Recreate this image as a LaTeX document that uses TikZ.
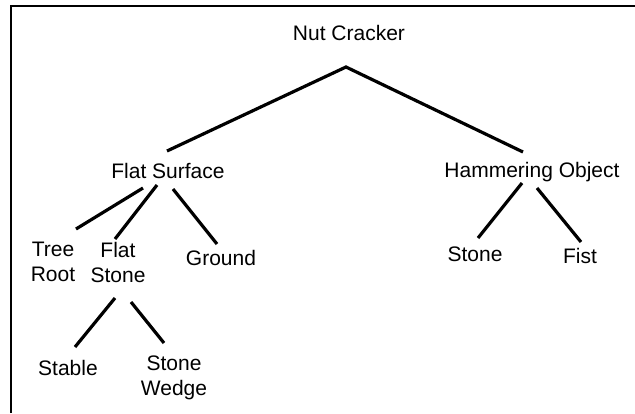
\documentclass[tikz,border=0pt]{standalone}
\usepackage{fontspec}
\setmainfont{Liberation Sans}
\usetikzlibrary{calc}
\begin{document}
\begin{tikzpicture}[x=1pt,y=-1pt,
  lbl/.style={inner sep=0pt,outer sep=0pt,anchor=north,align=center,
    font=\fontsize{21}{25}\selectfont},
  conn/.style={line width=3.2pt,line cap=butt},
  frame/.style={line width=2.2pt}]
\useasboundingbox (0,0) rectangle (635,413);
% frame (left and top only)
\draw[frame] (11,413) -- (11,6) -- (635,6);
% nodes
\node[lbl] (nc)  at (349,25)  {Nut Cracker};
\node[lbl] (fs)  at (168,163) {Flat Surface};
\node[lbl] (ho)  at (532,162) {Hammering Object};
\node[lbl] (tr)  at (53,242)  {Tree\\Root};
\node[lbl] (fst) at (118,242) {Flat\\Stone};
\node[lbl] (gr)  at (221,250) {Ground};
\node[lbl] (sb)  at (68,360)  {Stable};
\node[lbl] (sw)  at (174,356) {Stone\\Wedge};
\node[lbl] (st)  at (475,247) {Stone};
\node[lbl] (fi)  at (580,248) {Fist};
\coordinate (apex) at ($(nc.north)+(-3,42)$);
% connectors
\draw[conn] ($(fs.north)+(-1,-12)$) -- (apex) -- ($(ho.north)+(-9,-10)$);
\draw[conn] ($(fs.north)+(-25,25)$) -- ($(tr.north)+(23,-13)$);
\draw[conn] ($(fs.north)+(-11,22)$) -- ($(fst.north)+(-3,-3)$);
\draw[conn] ($(fs.north)+(5,26)$) -- ($(gr.north)+(-4,-6)$);
\draw[conn] ($(ho.north)+(-10,21)$) -- ($(st.north)+(3,-9)$);
\draw[conn] ($(ho.north)+(5,26)$) -- ($(fi.north)+(1,-6)$);
\draw[conn] ($(fst.north)+(-3,56)$) -- ($(sb.north)+(7,-13)$);
\draw[conn] ($(fst.north)+(13,60)$) -- ($(sw.north)+(-10,-13)$);
\end{tikzpicture}
\end{document}
